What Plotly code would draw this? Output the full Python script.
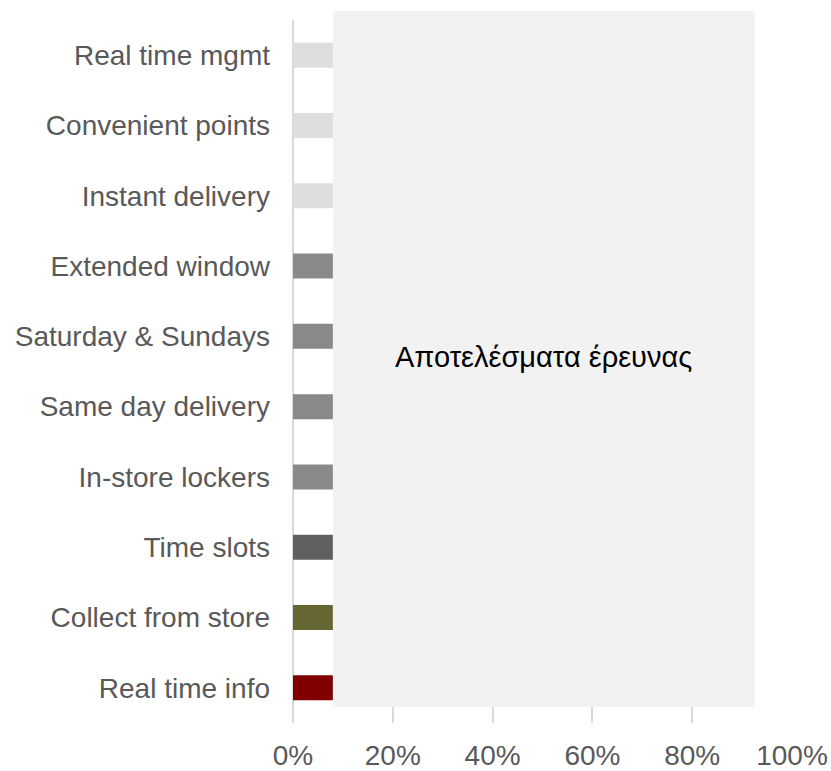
import plotly.graph_objects as go

categories = ["Real time info", "Collect from store", "Time slots", "In-store lockers",
              "Same day delivery", "Saturday & Sundays", "Extended window",
              "Instant delivery", "Convenient points", "Real time mgmt"]
values = [8, 8, 8, 8, 8, 8, 8, 8, 8, 8]
colors = ["#800000", "#666633", "#606060", "#898989", "#898989", "#898989", "#898989",
          "#DEDEDE", "#DEDEDE", "#DEDEDE"]
panel_start = 8
panel_end = 92.5
panel_text = "Αποτελέσματα έρευνας"
tick_vals = [0, 20, 40, 60, 80, 100]
tick_text = ["0%", "20%", "40%", "60%", "80%", "100%"]

fig = go.Figure()
fig.add_trace(go.Bar(
    y=categories, x=values, orientation="h",
    marker=dict(color=colors, line=dict(width=0)),
    width=0.355, hoverinfo="skip", showlegend=False,
))

fig.add_shape(type="rect", xref="x", yref="paper",
              x0=panel_start, x1=panel_end, y0=0.0228, y1=1.0128,
              fillcolor="#F2F2F2", line=dict(width=0), layer="above")
fig.add_annotation(x=(panel_start + panel_end) / 2, y=0.52, xref="x", yref="paper",
                   text=panel_text, showarrow=False,
                   font=dict(size=29, color="#000000", family="Liberation Sans, Arial"))

fig.update_layout(
    width=831, height=771,
    margin=dict(l=293, r=39, t=20, b=48),
    paper_bgcolor="white", plot_bgcolor="white",
    font=dict(family="Liberation Sans, Arial", size=28, color="#595959"),
)
fig.update_xaxes(range=[0, 100], tickvals=tick_vals, ticktext=tick_text,
                 showgrid=True, gridcolor="#D9D9D9", gridwidth=2,
                 zeroline=True, zerolinecolor="#D9D9D9", zerolinewidth=2,
                 showline=False, ticks="", ticklabelstandoff=13, automargin=False,
                 fixedrange=True)
fig.update_yaxes(categoryorder="array", categoryarray=categories,
                 showgrid=False, zeroline=False, showline=False, ticks="",
                 ticklabelstandoff=22, automargin=False, fixedrange=True)

fig.write_html("out.html")
